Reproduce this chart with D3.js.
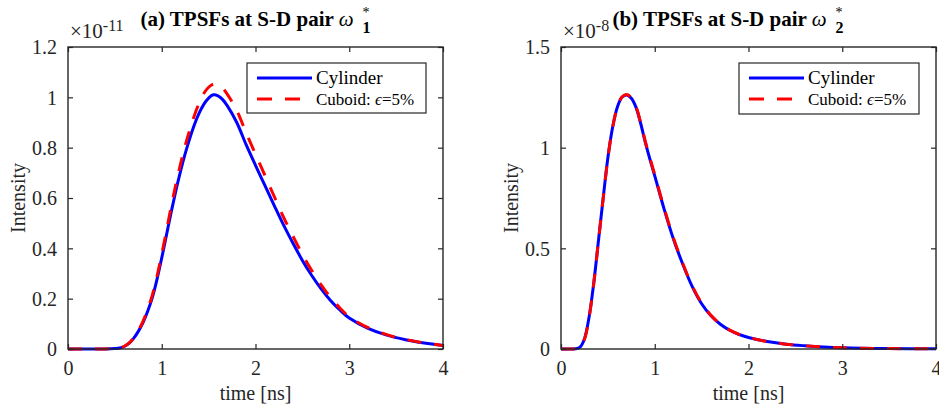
<!DOCTYPE html>
<html>
<head>
<meta charset="utf-8">
<script src="https://cdn.jsdelivr.net/npm/d3@7"></script>
<style>
  body { margin: 0; background: #fff; }
  svg text { font-family: "Liberation Serif", "Times New Roman", serif; fill: #262626; }
</style>
</head>
<body>
<svg id="chart" width="939" height="408"></svg>
<script>
// Panel (a): time [ns] and intensity (x 1e-11)
var timeA = [0, 0.2, 0.4, 0.5, 0.55, 0.6, 0.65, 0.7, 0.75, 0.8, 0.85, 0.9, 0.95, 1.0, 1.05, 1.1, 1.15, 1.2, 1.25, 1.3, 1.35, 1.4, 1.45, 1.5, 1.55, 1.6, 1.65, 1.7, 1.8, 1.9, 2.0, 2.1, 2.2, 2.3, 2.4, 2.5, 2.6, 2.7, 2.8, 2.9, 3.0, 3.2, 3.4, 3.6, 3.8, 4.0];
var cylinderA = [0, 0, 0, 0.002, 0.004, 0.01, 0.022, 0.042, 0.07, 0.105, 0.15, 0.205, 0.278, 0.362, 0.452, 0.543, 0.628, 0.706, 0.776, 0.838, 0.893, 0.938, 0.973, 0.997, 1.01, 1.006, 0.991, 0.966, 0.9, 0.812, 0.73, 0.65, 0.57, 0.492, 0.42, 0.352, 0.292, 0.239, 0.193, 0.155, 0.123, 0.082, 0.055, 0.037, 0.024, 0.014];
var cuboidA = [0, 0, 0, 0.002, 0.004, 0.011, 0.023, 0.044, 0.073, 0.11, 0.157, 0.215, 0.29, 0.377, 0.47, 0.565, 0.653, 0.735, 0.808, 0.872, 0.93, 0.978, 1.016, 1.04, 1.052, 1.05, 1.036, 1.012, 0.948, 0.859, 0.774, 0.69, 0.606, 0.523, 0.448, 0.376, 0.312, 0.255, 0.205, 0.163, 0.128, 0.085, 0.057, 0.038, 0.024, 0.014];

// Panel (b): time [ns] and intensity (x 1e-8)
var timeB = [0, 0.1, 0.15, 0.2, 0.25, 0.3, 0.35, 0.4, 0.45, 0.5, 0.55, 0.6, 0.65, 0.7, 0.75, 0.8, 0.85, 0.9, 0.95, 1.0, 1.1, 1.2, 1.3, 1.4, 1.5, 1.6, 1.7, 1.8, 1.9, 2.0, 2.2, 2.4, 2.6, 2.8, 3.0, 3.5, 4.0];
var cylinderB = [0, 0, 0.001, 0.008, 0.05, 0.16, 0.33, 0.54, 0.75, 0.95, 1.1, 1.2, 1.25, 1.262, 1.245, 1.2, 1.12, 1.025, 0.94, 0.86, 0.695, 0.545, 0.42, 0.31, 0.225, 0.165, 0.123, 0.093, 0.072, 0.057, 0.037, 0.024, 0.016, 0.01, 0.006, 0.002, 0.001];
var cuboidB = [0, 0, 0.001, 0.008, 0.049, 0.158, 0.328, 0.538, 0.748, 0.948, 1.099, 1.2, 1.251, 1.264, 1.248, 1.204, 1.125, 1.03, 0.946, 0.866, 0.7, 0.55, 0.424, 0.313, 0.228, 0.167, 0.124, 0.094, 0.073, 0.058, 0.037, 0.024, 0.016, 0.01, 0.006, 0.002, 0.001];

var xTicks = [0, 1, 2, 3, 4];
var yTicksA = [0, 0.2, 0.4, 0.6, 0.8, 1, 1.2];
var yTicksB = [0, 0.5, 1, 1.5];

var seriesNames = ["Cylinder", "Cuboid: "];

var svg = d3.select("#chart");
var axisColor = "#262626";
var serif = "'Liberation Serif', 'Times New Roman', serif";

var panels = [
    { left: 68, right: 443, top: 47, bottom: 349, ymax: 1.2, yTicks: yTicksA,
      time: timeA, cyl: cylinderA, cub: cuboidA,
      tag: "(a)", sub: "1", exp: "-11", titleX: 255.5,
      legend: { x: 247, y: 63, w: 179, h: 50 } },
    { left: 561, right: 936, top: 47, bottom: 349, ymax: 1.5, yTicks: yTicksB,
      time: timeB, cyl: cylinderB, cub: cuboidB,
      tag: "(b)", sub: "2", exp: "-8", titleX: 728,
      legend: { x: 739, y: 63, w: 180, h: 51 } }
];

panels.forEach(function (p) {
    var x = d3.scaleLinear().domain([0, 4]).range([p.left, p.right]);
    var y = d3.scaleLinear().domain([0, p.ymax]).range([p.bottom, p.top]);
    var g = svg.append("g");
    var fmt = function (d) { return String(+d.toFixed(1)); };

    // curves
    var line = d3.line()
        .x(function (d) { return x(d[0]); })
        .y(function (d) { return y(d[1]); })
        .curve(d3.curveCatmullRom.alpha(0.5));

    var clipId = "clip" + p.tag.replace(/\W/g, "");
    svg.append("clipPath").attr("id", clipId)
        .append("rect")
        .attr("x", p.left).attr("y", p.top)
        .attr("width", p.right - p.left).attr("height", p.bottom - p.top + 2);

    g.append("path")
        .datum(d3.zip(p.time, p.cyl))
        .attr("clip-path", "url(#" + clipId + ")")
        .attr("d", line)
        .attr("fill", "none")
        .attr("stroke", "#0000ff")
        .attr("stroke-width", 3);

    g.append("path")
        .datum(d3.zip(p.time, p.cub))
        .attr("clip-path", "url(#" + clipId + ")")
        .attr("d", line)
        .attr("fill", "none")
        .attr("stroke", "#ff0000")
        .attr("stroke-width", 3)
        .attr("stroke-dasharray", "14,13");

    // axes with inward ticks, mirrored on top/right
    var xb = g.append("g").attr("transform", "translate(0," + p.bottom + ")")
        .call(d3.axisBottom(x).tickValues(xTicks).tickSizeInner(-5).tickSizeOuter(0).tickPadding(12).tickFormat(fmt));
    var xt = g.append("g").attr("transform", "translate(0," + p.top + ")")
        .call(d3.axisTop(x).tickValues(xTicks).tickSizeInner(-5).tickSizeOuter(0).tickFormat(""));
    var yl = g.append("g").attr("transform", "translate(" + p.left + ",0)")
        .call(d3.axisLeft(y).tickValues(p.yTicks).tickSizeInner(-5).tickSizeOuter(0).tickPadding(11).tickFormat(fmt));
    var yr = g.append("g").attr("transform", "translate(" + p.right + ",0)")
        .call(d3.axisRight(y).tickValues(p.yTicks).tickSizeInner(-5).tickSizeOuter(0).tickFormat(""));

    [xb, xt, yl, yr].forEach(function (a) {
        a.attr("font-family", serif);
        a.select(".domain").remove();
        a.selectAll(".tick line").attr("stroke", axisColor).attr("stroke-width", 1.2);
        a.selectAll(".tick text")
            .attr("fill", axisColor)
            .style("font-family", serif)
            .style("font-size", "20px");
    });
    xb.selectAll(".tick text").attr("dy", "0.71em");
    yl.selectAll(".tick text").attr("dy", "0.34em");

    g.append("rect")
        .attr("x", p.left).attr("y", p.top)
        .attr("width", p.right - p.left).attr("height", p.bottom - p.top)
        .attr("fill", "none")
        .attr("stroke", axisColor)
        .attr("stroke-width", 1.4);

    // axis labels
    g.append("text")
        .attr("x", (p.left + p.right) / 2).attr("y", 400)
        .attr("text-anchor", "middle")
        .style("font-family", serif)
        .style("font-size", "20px")
        .text("time [ns]");

    g.append("text")
        .attr("transform", "translate(" + (p.left - 43) + "," + ((p.top + p.bottom) / 2) + ") rotate(-90)")
        .attr("text-anchor", "middle")
        .style("font-family", serif)
        .style("font-size", "20px")
        .text("Intensity");

    // exponent
    var ex = g.append("text").attr("x", p.left + 2).attr("y", 38)
        .style("font-family", serif).style("font-size", "21px");
    ex.append("tspan").text("\u00d710");
    ex.append("tspan").attr("dy", -7).style("font-size", "16px").text(p.exp);

    // title
    var t = g.append("text")
        .attr("x", p.titleX).attr("y", 26)
        .attr("text-anchor", "middle")
        .style("font-family", serif)
        .style("font-size", "21px")
        .style("fill", "#000");
    t.append("tspan").style("font-weight", "bold").text(p.tag + " TPSFs at S-D pair ");
    t.append("tspan").style("font-style", "italic").text("\u03c9");
    t.append("tspan").attr("dx", 9).attr("dy", -9).style("font-size", "14px").text("*");
    t.append("tspan").attr("dx", -7).attr("dy", 16).style("font-size", "16px").style("font-weight", "bold").text(p.sub);

    // legend
    var L = p.legend;
    var lg = g.append("g");
    lg.append("rect")
        .attr("x", L.x).attr("y", L.y).attr("width", L.w).attr("height", L.h)
        .attr("fill", "#fff").attr("stroke", axisColor).attr("stroke-width", 1.2);
    var rows = [
        { name: seriesNames[0], color: "#0000ff", dash: null, size: "19px" },
        { name: seriesNames[1], color: "#ff0000", dash: "15,13", size: "17px" }
    ];
    rows.forEach(function (r, i) {
        var ry = L.y + 15 + i * 21;
        lg.append("line")
            .attr("x1", L.x + 10).attr("x2", L.x + 65)
            .attr("y1", ry).attr("y2", ry)
            .attr("stroke", r.color).attr("stroke-width", 3)
            .attr("stroke-dasharray", r.dash);
        var tx = lg.append("text")
            .attr("x", L.x + 69).attr("y", ry + 6)
            .style("font-family", serif)
            .style("font-size", r.size)
            .style("fill", "#000")
            .text(r.name);
        if (i === 1) {
            tx.append("tspan").style("font-style", "italic").text("\u03f5");
            tx.append("tspan").text("=5%");
        }
    });
});
</script>
</body>
</html>
